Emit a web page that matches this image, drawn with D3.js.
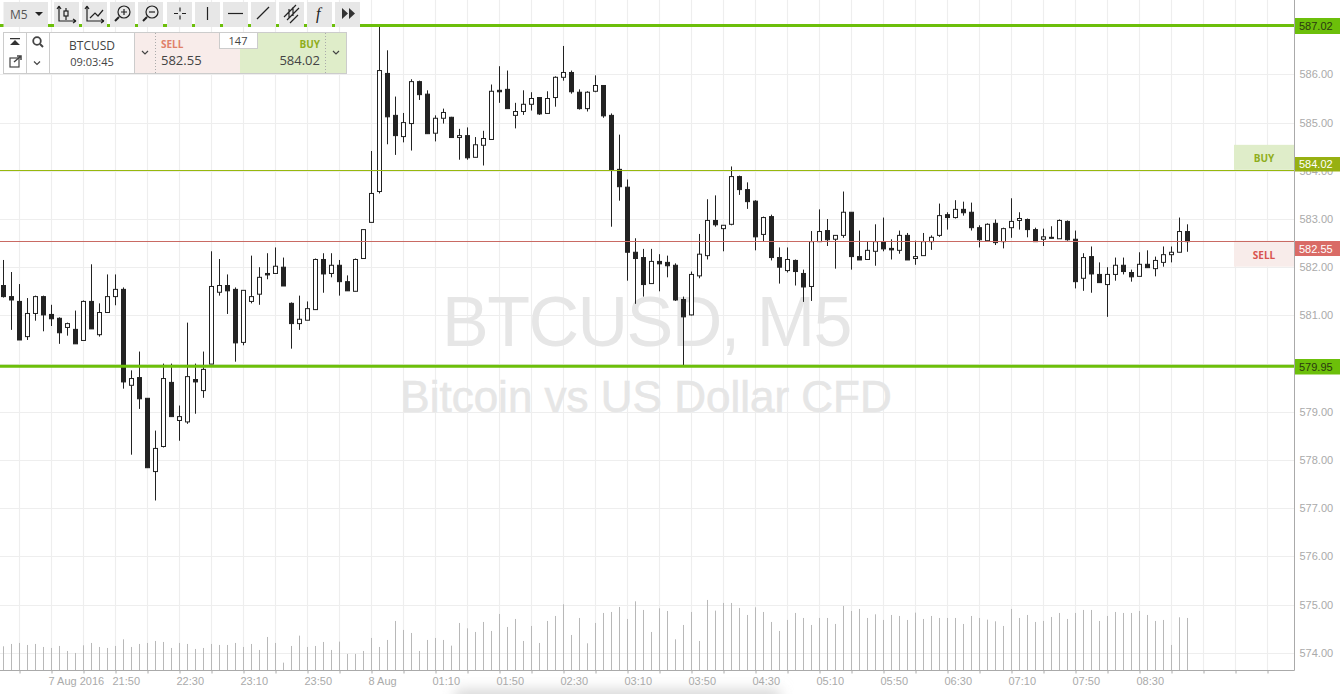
<!DOCTYPE html>
<html><head><meta charset="utf-8">
<script src="https://cdn.jsdelivr.net/npm/d3@7/dist/d3.min.js"></script>
<style>
html,body{margin:0;padding:0;background:#fff;overflow:hidden}
svg{display:block}
</style></head><body>
<svg id="c" width="1340" height="694"></svg>
<script>
const opens=[581.62,581.39,581.29,580.56,581.04,581.39,581.02,580.94,580.75,580.71,
580.48,581.29,580.60,581.06,581.39,581.54,579.55,579.71,579.28,577.76,
578.28,579.61,578.82,578.79,579.67,579.44,579.99,581.48,581.62,581.54,
580.44,581.29,581.44,581.87,581.87,582.00,581.25,580.83,580.90,581.12,
582.16,581.87,582.04,581.70,581.50,582.18,582.93,583.57,586.02,585.15,
584.71,584.98,585.85,585.59,584.78,585.09,585.11,584.69,584.73,584.28,
584.53,584.65,585.67,585.69,585.15,585.23,585.38,585.52,585.19,585.52,
585.94,586.04,585.63,585.29,585.65,585.77,585.15,584.03,583.66,582.31,
582.20,581.66,582.12,582.10,582.04,581.33,581.01,581.82,582.24,582.97,
582.80,582.89,583.88,583.61,583.37,582.68,583.05,582.20,581.93,582.14,
581.87,581.60,582.53,582.76,582.58,582.66,583.14,582.22,582.16,582.33,
582.53,582.39,582.35,582.66,582.18,582.24,582.53,582.66,583.09,583.03,
583.20,583.14,582.82,582.55,582.91,582.53,582.82,582.97,582.99,582.78,
582.58,582.62,582.59,582.95,582.58,581.77,582.22,581.85,581.64,581.85,
582.04,581.89,581.81,582.06,581.97,582.10,582.26,582.31,582.74];
const closes=[581.39,581.32,580.49,581.04,581.39,581.01,580.93,580.64,580.83,580.41,
581.29,580.72,581.06,581.39,581.54,579.62,579.69,579.27,577.84,578.24,
579.69,578.90,578.90,579.73,579.62,579.88,581.60,581.62,581.51,580.43,
581.52,581.39,581.79,581.84,582.02,581.61,580.83,580.92,581.14,582.16,
581.86,582.04,581.70,581.51,582.16,582.78,583.53,586.08,585.12,584.73,
585.00,585.85,585.58,584.77,585.09,585.21,584.69,584.73,584.27,584.54,
584.67,585.65,585.64,585.29,585.23,585.38,585.50,585.18,585.50,585.94,
586.04,585.64,585.29,585.63,585.77,585.14,584.02,583.67,582.31,582.18,
581.64,582.12,582.07,582.03,581.32,580.97,581.85,582.27,582.97,582.88,
582.87,583.88,583.61,583.36,582.63,583.03,582.20,582.00,582.16,581.91,
581.59,582.53,582.74,582.57,582.66,583.14,582.22,582.15,582.35,582.53,
582.38,582.36,582.66,582.15,582.22,582.53,582.62,583.07,583.03,583.20,
583.13,582.82,582.57,582.89,582.51,582.80,582.95,583.01,582.78,582.53,
582.63,582.60,582.97,582.57,581.70,582.20,581.86,581.68,581.85,582.04,
581.91,581.80,582.06,581.99,582.14,582.26,582.31,582.74,582.53];
const highs=[582.15,581.90,581.65,581.36,581.41,581.41,581.22,580.96,580.85,581.10,
581.31,582.06,581.25,581.85,581.85,581.58,579.86,580.25,579.28,578.61,
580.00,580.00,579.13,580.85,580.00,580.25,582.33,582.17,581.85,581.58,
581.52,582.24,582.00,582.29,582.41,582.20,581.27,581.41,581.29,582.18,
582.29,582.29,582.15,581.83,582.18,582.78,584.41,587.02,586.50,585.54,
585.20,585.90,585.87,585.67,585.15,585.29,585.12,584.87,584.90,584.70,
584.83,585.79,586.17,586.08,585.41,585.67,585.63,585.52,585.65,585.96,
586.59,586.08,585.69,585.65,585.98,585.77,585.19,584.75,583.82,582.60,
582.38,582.38,582.27,582.24,582.08,581.39,581.91,582.69,583.41,583.49,
582.87,584.09,583.90,583.76,583.39,583.05,583.09,582.41,582.41,582.16,
581.95,582.75,583.20,583.00,582.66,583.57,583.14,582.76,582.53,582.89,
583.03,582.58,582.76,582.71,582.55,582.71,582.66,583.32,583.14,583.39,
583.36,583.34,582.87,582.91,582.99,582.82,583.43,583.14,583.01,582.82,
582.80,582.85,582.99,582.97,582.76,582.29,582.43,582.10,582.00,582.20,
582.20,581.95,582.31,582.35,582.22,582.43,582.43,583.03,582.89];
const lows=[581.37,580.70,580.49,580.49,580.89,580.67,580.78,580.41,580.58,580.41,
580.48,580.72,580.56,581.06,581.21,579.48,578.11,579.06,577.84,577.16,
578.26,578.90,578.40,578.75,578.96,579.29,579.99,581.41,581.03,580.04,
580.38,581.25,581.22,581.75,581.87,581.61,580.31,580.70,580.90,581.12,
581.47,581.79,581.41,581.51,581.50,582.18,582.93,583.53,584.55,584.33,
584.59,584.42,585.47,584.77,584.61,584.98,584.69,584.23,584.23,584.28,
584.11,584.65,585.41,585.29,584.88,585.16,585.25,585.16,585.19,585.33,
585.87,585.60,585.27,585.23,585.63,585.10,582.84,583.38,581.72,581.24,
581.39,581.66,581.50,581.79,581.30,579.97,581.00,581.77,582.16,582.84,
582.33,582.87,583.50,583.21,582.35,582.53,582.14,581.66,581.89,581.62,
581.28,581.30,582.53,582.44,581.97,582.61,581.95,582.15,582.16,582.03,
582.33,582.16,582.28,582.15,582.05,582.24,582.36,582.63,582.78,583.01,
583.07,582.76,582.41,582.55,582.46,582.39,582.61,582.78,582.62,582.53,
582.44,582.60,582.59,582.55,581.56,581.51,581.47,581.68,580.97,581.72,
581.85,581.70,581.81,581.99,581.81,582.01,582.10,582.31,582.32];
const volumes=[72,79,82,76,79,70,67,73,58,52,
75,82,70,67,73,93,70,79,82,88,
85,67,82,79,64,67,79,76,76,82,
70,79,61,100,82,23,73,104,70,73,
85,61,86,49,49,58,97,70,91,148,
121,112,58,91,97,91,74,142,126,115,
145,118,169,130,154,88,133,82,148,163,
198,106,157,81,142,172,175,190,154,207,
181,115,186,178,93,136,175,88,211,179,
202,202,187,166,189,175,145,118,151,172,
157,136,157,157,139,193,178,184,157,168,
151,166,163,151,173,154,163,157,157,157,
139,163,157,152,147,133,184,157,166,145,
148,160,172,154,172,181,181,148,163,175,
172,172,178,166,148,151,76,159,157];
const priceTicks=[586,585,584,583,582,581,580,579,578,577,576,575,574];
const priceLabelTicks=[586,585,584,583,582,581,579,578,577,576,575,574];
const timeTickIdx=d3.range(2,160,4);
const timeLabels=["7 Aug 2016","21:50","22:30","23:10","23:50","8 Aug","01:10","01:50","02:30","03:10","03:50","04:30","05:10","05:50","06:30","07:10","07:50","08:30"];
const timeLabelIdx=[6,14,22,30,38,46,54,62,70,78,86,94,102,110,118,126,134,142];
const highLevel=587.02, lowLevel=579.95, buyPrice=584.02, sellPrice=582.55;
const symbol="BTCUSD", clock="09:03:45", spread="147", timeframe="M5", instrument="Bitcoin vs US Dollar CFD";

const X=d3.scaleLinear().domain([0,148]).range([3.5,1187.5]);
const Y=d3.scaleLinear().domain([586,574]).range([74.4,652.8]);
const V=d3.scaleLinear().domain([0,240]).range([670.3,590.3]);
const plotR=1294.5, axisY=670.5;
const crisp=v=>Math.round(v)+.5;
const svg=d3.select("#c");
const sans="'Liberation Sans',Arial,sans-serif", open="'Open Sans',sans-serif";

// soft shadow under the axis
const defs=svg.append("defs");
defs.append("filter").attr("id","soft").attr("x","-20%").attr("y","-200%").attr("width","140%").attr("height","500%")
 .append("feGaussianBlur").attr("stdDeviation",7);
svg.append("rect").attr("x",455).attr("y",690).attr("width",325).attr("height",16).attr("fill","#d4d4d4").attr("filter","url(#soft)");

// grid
svg.append("g").selectAll("line").data(priceTicks).join("line")
 .attr("x1",0).attr("x2",plotR).attr("y1",d=>crisp(Y(d))).attr("y2",d=>crisp(Y(d)))
 .attr("stroke","#eeeeee").attr("stroke-width",1.2);
svg.append("g").selectAll("line").data(timeTickIdx.filter(i=>X(i)<plotR)).join("line")
 .attr("x1",d=>X(d)).attr("x2",d=>X(d)).attr("y1",0).attr("y2",axisY)
 .attr("stroke","#eeeeee").attr("stroke-width",1.2);

// watermarks
svg.append("text").text(symbol+", "+timeframe).attr("x",646.5).attr("y",345.5).attr("text-anchor","middle")
 .attr("font-family",sans).attr("font-size",70).attr("letter-spacing",-1.5).attr("fill","#e6e6e6");
svg.append("text").text(instrument).attr("x",646).attr("y",411.5).attr("text-anchor","middle")
 .attr("font-family",sans).attr("font-size",44).attr("fill","#e6e6e6").attr("stroke","#e6e6e6").attr("stroke-width",.6);

// volume
svg.append("g").selectAll("line").data(volumes).join("line")
 .attr("x1",(d,i)=>X(i)).attr("x2",(d,i)=>X(i)).attr("y1",V(0)).attr("y2",d=>V(d))
 .attr("stroke","#b8b8b8").attr("stroke-width",1);

// candles
const cg=svg.append("g");
const idx=d3.range(opens.length);
cg.selectAll("line").data(idx).join("line")
 .attr("x1",i=>X(i)).attr("x2",i=>X(i)).attr("y1",i=>Y(highs[i])).attr("y2",i=>Y(lows[i]))
 .attr("stroke","#222").attr("stroke-width",1);
cg.selectAll("rect").data(idx).join("rect")
 .attr("x",i=>X(i)-2).attr("width",4)
 .attr("y",i=>Y(Math.max(opens[i],closes[i])))
 .attr("height",i=>Math.max(1,Math.abs(Y(opens[i])-Y(closes[i]))))
 .attr("fill",i=>closes[i]>=opens[i]?"#fff":"#222").attr("stroke","#222").attr("stroke-width",1);

// buy/sell zones
svg.append("rect").attr("x",1234).attr("width",60).attr("y",Y(buyPrice)-25).attr("height",25).attr("fill","#dfedc9");
svg.append("text").text("BUY").attr("x",1264).attr("y",Y(buyPrice)-8).attr("text-anchor","middle")
 .attr("font-family",open).attr("font-weight",700).attr("font-size",10).attr("fill","#8fae1b");
svg.append("rect").attr("x",1234).attr("width",60).attr("y",Y(sellPrice)).attr("height",26).attr("fill","#f8ecea");
svg.append("text").text("SELL").attr("x",1264).attr("y",Y(sellPrice)+18).attr("text-anchor","middle")
 .attr("font-family",open).attr("font-weight",700).attr("font-size",10).attr("fill","#d9534f");

// level lines
svg.append("line").attr("x1",0).attr("x2",plotR).attr("y1",crisp(Y(buyPrice))).attr("y2",crisp(Y(buyPrice))).attr("stroke","#97b80e").attr("stroke-width",1);
svg.append("line").attr("x1",0).attr("x2",plotR).attr("y1",crisp(Y(sellPrice))).attr("y2",crisp(Y(sellPrice))).attr("stroke","#c96a63").attr("stroke-width",1);
[highLevel,lowLevel].forEach(v=>svg.append("line").attr("x1",0).attr("x2",plotR)
 .attr("y1",Y(v)+.3).attr("y2",Y(v)+.3).attr("stroke","#6cbf0a").attr("stroke-width",3));

// axes
const ya=svg.append("g").attr("transform",`translate(${plotR},0)`)
 .call(d3.axisRight(Y).tickValues(priceLabelTicks).tickFormat(d3.format(".2f")).tickSize(0).tickPadding(5));
ya.select(".domain").remove();
ya.selectAll("text").attr("font-family",sans).attr("font-size",11).attr("fill","#aaa");
svg.append("line").attr("x1",plotR).attr("x2",plotR).attr("y1",0).attr("y2",axisY).attr("stroke","#aaa");

const xa=svg.append("g").attr("transform",`translate(0,${axisY})`)
 .call(d3.axisBottom(X).tickValues(timeTickIdx.filter(i=>X(i)<plotR)).tickSize(3).tickFormat(""));
xa.select(".domain").attr("d",`M0,0H${plotR}`).attr("stroke","#aaa");
xa.selectAll("line").attr("stroke","#aaa");
svg.append("g").selectAll("text").data(timeLabels).join("text").text(d=>d)
 .attr("x",(d,i)=>X(timeLabelIdx[i])-3).attr("y",685).attr("font-family",sans).attr("font-size",11)
 .attr("fill","#aaa");

// price labels
function priceLabel(v,y0,h,fill,col){
 svg.append("rect").attr("x",plotR+.5).attr("y",y0).attr("width",1340-plotR).attr("height",h).attr("fill",fill);
 svg.append("text").text(d3.format(".2f")(v)).attr("x",1299).attr("y",y0+h/2+4)
  .attr("font-family",sans).attr("font-size",11).attr("fill",col);
}
priceLabel(highLevel,18,16,"#6cbf0a","#2a3a10");
priceLabel(lowLevel,359,15.5,"#6cbf0a","#2a3a10");
priceLabel(buyPrice,157,14.5,"#97b012","#fff");
priceLabel(sellPrice,241,15,"#d96b66","#fff");

// toolbar
const btnX=[[3.5,48],[54,79],[82,107],[110,135],[138,163],[167,192],[195,220],[223,248],[251,276],[279,304],[307,332],[335,360]];
svg.append("g").selectAll("rect").data(btnX).join("rect")
 .attr("x",d=>d[0]).attr("y",2).attr("width",d=>d[1]-d[0]).attr("height",25).attr("fill","#e7e7e7");
svg.append("text").text(timeframe).attr("x",10).attr("y",19).attr("font-family",open).attr("font-size",12).attr("fill","#555");
const icon=svg.append("g").attr("fill","none").attr("stroke","#222").attr("stroke-width",1.2);
icon.append("path").attr("fill","#222").attr("stroke","none").attr("d","M35,12h8l-4,4z");
icon.append("path").attr("d","M59,6V21H76M59,6l-2,3M59,6l2,3M76,21l-3,-2M76,21l-3,2M66,8V20");
icon.append("rect").attr("x",64).attr("y",11).attr("width",4).attr("height",5).attr("fill","#e7e7e7");
icon.append("path").attr("d","M87,6V21H104M87,6l-2,3M87,6l2,3M104,21l-3,-2M104,21l-3,2M90,18l5,-5l3,3l5,-6");
icon.append("circle").attr("cx",124).attr("cy",12).attr("r",6);
icon.append("path").attr("stroke-width",2).attr("d","M119,17l-4,4");
icon.append("path").attr("d","M121,12h6M124,9v6");
icon.append("circle").attr("cx",152).attr("cy",12).attr("r",6);
icon.append("path").attr("stroke-width",2).attr("d","M147,17l-4,4");
icon.append("path").attr("d","M149,12h6");
icon.append("path").attr("d","M174,13.5h4M182,13.5h4M180,7.5v4M180,15.5v4");
icon.append("path").attr("d","M207.5,7v13");
icon.append("path").attr("d","M228,13.5h15");
icon.append("path").attr("d","M257,19l12,-12");
icon.append("path").attr("d","M284,17l12,-12M287,20l12,-12M290,23l8,-8M289,9v9M293,7v9");
icon.append("text").text("f").attr("x",316).attr("y",19).attr("stroke","none").attr("fill","#222")
 .attr("font-family","'Liberation Serif',serif").attr("font-style","italic").attr("font-size",16);
icon.append("path").attr("fill","#333").attr("stroke","none").attr("d","M342,8l6,5.5l-6,5.5zM349,8l6,5.5l-6,5.5z");

// trade panel
const p=svg.append("g");
p.append("rect").attr("x",3.5).attr("y",32.5).attr("width",343).attr("height",41).attr("fill","#fff").attr("stroke","#ccc");
p.append("rect").attr("x",135).attr("y",33).attr("width",105).attr("height",40).attr("fill","#f8ecea");
p.append("rect").attr("x",240).attr("y",33).attr("width",106).attr("height",40).attr("fill","#dfedc9");
[26.5,49.5,134.5].forEach(x=>p.append("line").attr("x1",x).attr("x2",x).attr("y1",33).attr("y2",73).attr("stroke","#ccc"));
[155.5,325.5].forEach(x=>p.append("line").attr("x1",x).attr("x2",x).attr("y1",33).attr("y2",73).attr("stroke","#aaa").attr("stroke-dasharray","1 2"));
const txt=(t,x,y,fs,col,anc,w)=>p.append("text").text(t).attr("x",x).attr("y",y).attr("font-size",fs).attr("fill",col)
 .attr("font-family",open).attr("text-anchor",anc||"start").attr("font-weight",w||400);
txt(symbol,92,50,12,"#444","middle");
txt(clock,92,66,11,"#444","middle");
txt("SELL",161,48,10,"#e08068","start",700);
txt(sellPrice.toFixed(2),161,65,13,"#444");
txt("BUY",320,48,10,"#8fae1b","end",700);
txt(buyPrice.toFixed(2),320,65,13,"#444","end");
p.append("rect").attr("x",219.5).attr("y",32.5).attr("width",38).attr("height",16).attr("fill","#fff").attr("stroke","#ccc");
txt(spread,238,45,11,"#444","middle");
const ic=p.append("g").attr("fill","none").attr("stroke","#444").attr("stroke-width",1.2);
ic.append("path").attr("fill","#333").attr("stroke","none").attr("d","M10,45l5,-5l5,5zM10,38h10v1.2h-10z");
ic.append("rect").attr("x",10).attr("y",58).attr("width",9).attr("height",9);
ic.append("path").attr("stroke-width",1.5).attr("d","M14,62l7,-6M17,56h4v4");
ic.append("circle").attr("cx",37).attr("cy",41).attr("r",3.8).attr("stroke-width",1.8);
ic.append("path").attr("stroke-width",2).attr("d","M40,44l3,3");
[[37,63],[145,52.5],[336,52.5]].forEach(([x,y])=>ic.append("path").attr("d",`M${x-3},${y-1.5}l3,3l3,-3`));
</script>
</body></html>
